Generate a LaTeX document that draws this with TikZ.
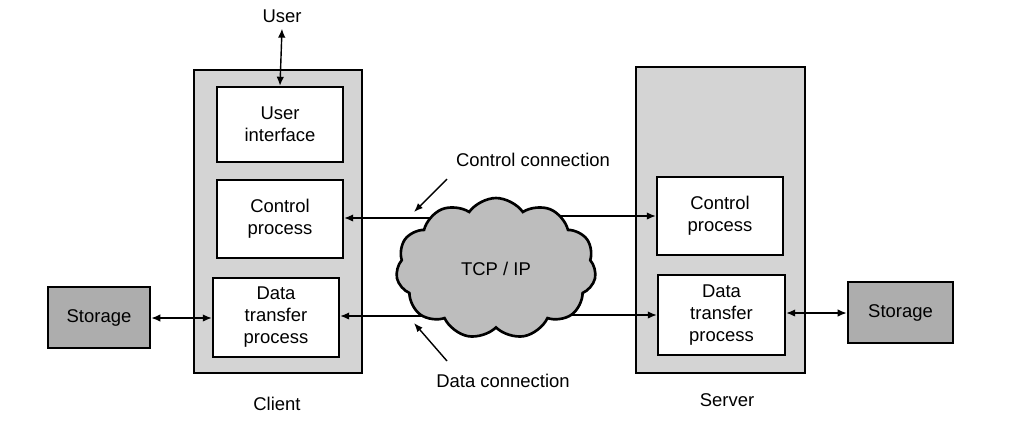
\documentclass[tikz,border=0pt]{standalone}
\usepackage{fontspec}
\setmainfont{Liberation Sans}
\usetikzlibrary{shapes.symbols,arrows.meta}
\begin{document}
\begin{tikzpicture}[x=0.02cm,y=-0.02cm,
  every node/.style={font=\fontsize{10.5}{12.5}\selectfont, align=center},
  outerbox/.style={draw, line width=1.6pt, fill=black!17, inner sep=0pt},
  innerbox/.style={draw, line width=1.4pt, fill=white, inner sep=0pt},
  storebox/.style={draw, line width=1.5pt, fill=black!32, inner sep=0pt},
  conn/.style={line width=0.8pt, -{Latex[length=1.8mm,width=1.5mm]}},
  dconn/.style={line width=0.8pt, {Latex[length=1.8mm,width=1.5mm]}-{Latex[length=1.8mm,width=1.5mm]}},
  pointer/.style={line width=0.8pt, -{Latex[length=1.8mm,width=1.4mm]}}]
\useasboundingbox (0,0) rectangle (1024,427);
\fill[white] (0,0) rectangle (1024,427);
% outer boxes
\node[outerbox, minimum width=3.36cm, minimum height=6.06cm] (client) at (278,221.5) {};
\node[outerbox, minimum width=3.38cm, minimum height=6.12cm] (server) at (720.5,220) {};
% inner boxes
\node[innerbox, minimum width=2.52cm, minimum height=1.5cm] (ui) at (280,124.5) {User\\interface};
\node[innerbox, minimum width=2.52cm, minimum height=1.56cm] (cpC) at (280,219) {Control\\process};
\node[innerbox, minimum width=2.52cm, minimum height=1.58cm] (dtC) at (276,317.5) {Data\\transfer\\process};
\node[innerbox, minimum width=2.52cm, minimum height=1.56cm] (cpS) at (720,216) {Control\\process};
\node[innerbox, minimum width=2.54cm, minimum height=1.6cm] (dtS) at (721.5,315) {Data\\transfer\\process};
% storage
\node[storebox, minimum width=2.04cm, minimum height=1.22cm] (stL) at (99,317.5) {Storage};
\node[storebox, minimum width=2.1cm, minimum height=1.22cm] (stR) at (900.5,312.5) {Storage};
% connection ends (hidden under the cloud)
\coordinate (ccL) at (470,218);
\coordinate (ccR) at (520,216);
\coordinate (dcL) at (470,316);
\coordinate (dcR) at (520,315);
% connectors
\draw[conn] (ccL) -- (cpC.east |- ccL);
\draw[conn] (ccR) -- (cpS.west |- ccR);
\draw[conn] (dcL) -- (dtC.east |- dcL);
\draw[conn] (dcR) -- (dtS.west |- dcR);
\draw[dconn] (stL.east |- 0,318) -- (dtC.west |- 0,318);
\draw[dconn] (dtS.east |- 0,313) -- (stR.west |- 0,313);
% cloud
\node[cloud, draw, line width=1.5pt, fill=black!26, cloud puffs=11, cloud puff arc=110, aspect=1.45, minimum width=4.0cm, minimum height=2.82cm, inner sep=0pt] (net) at (496,268.5) {TCP / IP};
% labels
\node (user) at (282,16) {User};
\node (clientlbl) at (277,404) {Client};
\node (serverlbl) at (727,400) {Server};
\node (cclbl) at (533,160) {Control connection};
\node (dclbl) at (503,381) {Data connection};
\draw[dconn] (user.south) -- (ui.north);
\coordinate (ccTail) at (447,179);
\coordinate (ccTip) at (414,212);
\coordinate (dcTail) at (447,361);
\coordinate (dcTip) at (414,323);
\draw[pointer] (ccTail) -- (ccTip);
\draw[pointer] (dcTail) -- (dcTip);
\end{tikzpicture}
\end{document}
